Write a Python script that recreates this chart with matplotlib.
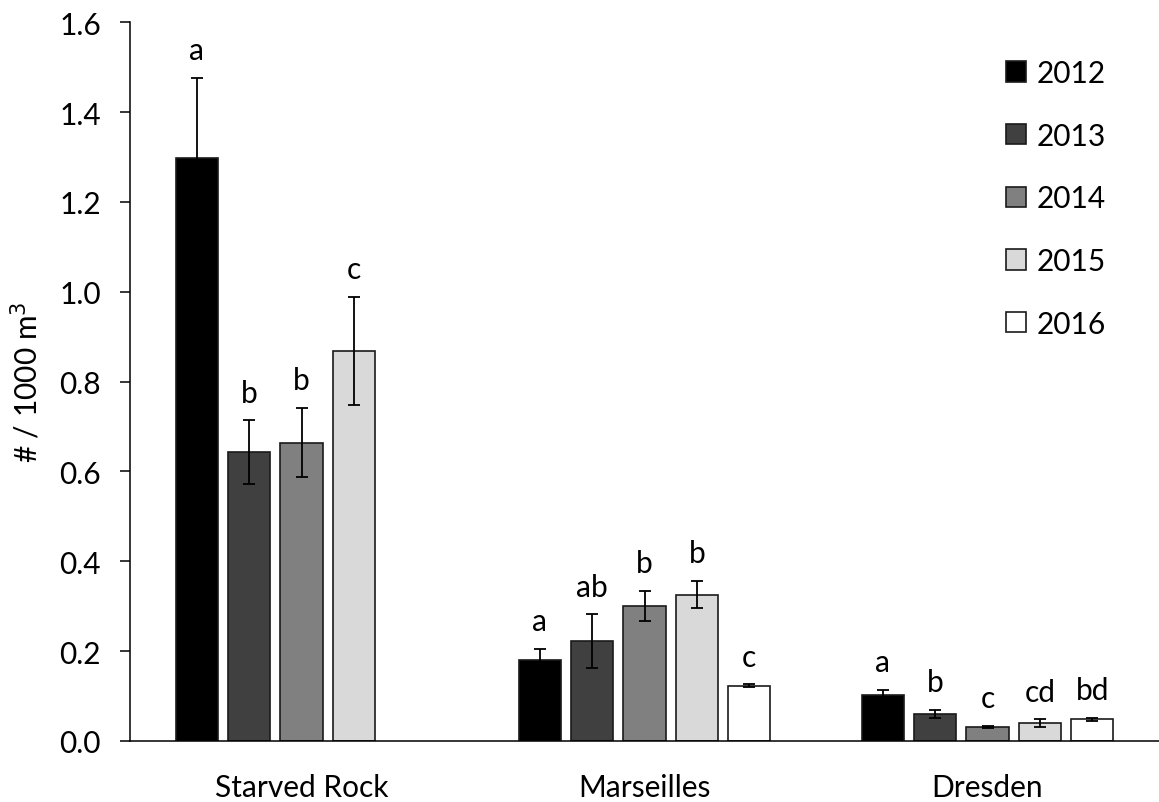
import numpy as np
import matplotlib
matplotlib.use("Agg")
import matplotlib.pyplot as plt
from matplotlib.patches import Patch

plt.rcParams["font.family"] = ["Lato", "DejaVu Sans"]

sites = ["Starved Rock", "Marseilles", "Dresden"]
years = ["2012", "2013", "2014", "2015", "2016"]

# mean density per site, one list per year (Starved Rock has no 2016 value)
means = {
    "2012": [1.298, 0.181, 0.103],
    "2013": [0.643, 0.222, 0.060],
    "2014": [0.664, 0.301, 0.031],
    "2015": [0.868, 0.326, 0.040],
    "2016": [np.nan, 0.123, 0.048],
}
errs = {
    "2012": [0.178, 0.024, 0.011],
    "2013": [0.071, 0.060, 0.009],
    "2014": [0.077, 0.033, 0.003],
    "2015": [0.120, 0.030, 0.008],
    "2016": [np.nan, 0.003, 0.003],
}
letters = {
    "2012": ["a", "a", "a"],
    "2013": ["b", "ab", "b"],
    "2014": ["b", "b", "c"],
    "2015": ["c", "b", "cd"],
    "2016": ["", "c", "bd"],
}
colors = ["#000000", "#404040", "#808080", "#d9d9d9", "#ffffff"]

fs = 21.5
fig = plt.figure(figsize=(11.59, 8.03), dpi=100)
ax = fig.add_axes([130 / 1159, 61 / 803, 1 - 130 / 1159, 718.7 / 803])

x = np.arange(len(sites))
slot = 0.1528
width = 0.1225
for i, yr in enumerate(years):
    pos = x + (i - 2) * slot
    ax.bar(pos, means[yr], width, color=colors[i], edgecolor="#1a1a1a", linewidth=1.2, zorder=2)
    ax.errorbar(pos, means[yr], yerr=errs[yr], fmt="none", ecolor="black",
                elinewidth=1.3, capsize=4.5, capthick=1.3, zorder=3)
    for p, m, e, lab in zip(pos, means[yr], errs[yr], letters[yr]):
        if lab:
            ax.annotate(lab, (p, m + e), xytext=(0, 13.5), textcoords="offset points",
                        ha="center", va="baseline", fontsize=fs)

ax.set_xlim(-0.5, 2.5)
ax.set_ylim(0, 1.6)
ax.set_yticks(np.arange(0, 1.61, 0.2))
ax.set_yticklabels([f"{v:.1f}" for v in np.arange(0, 1.61, 0.2)])
ax.set_xticks(x)
ax.set_xticklabels(sites)
ax.tick_params(axis="y", direction="out", length=7, width=1.1, pad=14, labelsize=fs)
ax.tick_params(axis="x", length=0, pad=23, labelsize=fs)
ax.spines["top"].set_visible(False)
ax.spines["right"].set_visible(False)
ax.spines["left"].set_linewidth(1.1)
ax.spines["bottom"].set_linewidth(1.1)
ax.set_ylabel("# / 1000 m$^3$", fontsize=fs)
ax.yaxis.set_label_coords(-0.085, 0.5)

handles = [Patch(facecolor=c, edgecolor="#1a1a1a", linewidth=1.2) for c in colors]
fig.legend(handles, years, loc="upper left", bbox_to_anchor=(1006 / 1159, 1 - 60 / 803),
           frameon=False, fontsize=fs, handlelength=0.67, handleheight=0.67,
           handletextpad=0.35, labelspacing=1.16, borderpad=0, borderaxespad=0)

plt.savefig("out.png", dpi=100)
